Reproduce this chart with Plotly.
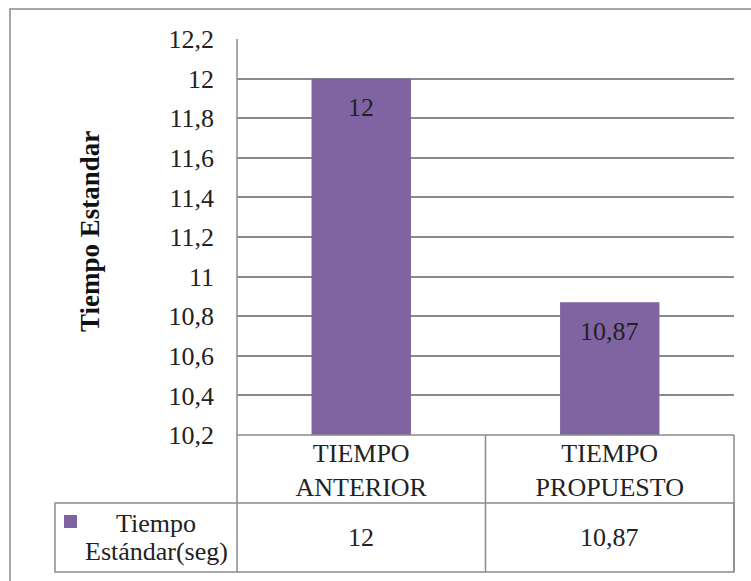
import plotly.graph_objects as go

# Data
categories = ["TIEMPO<br>ANTERIOR", "TIEMPO<br>PROPUESTO"]
values = [12, 10.87]
series_name = "Tiempo<br>Estándar(seg)"
y_ticks = [10.2, 10.4, 10.6, 10.8, 11.0, 11.2, 11.4, 11.6, 11.8, 12.0, 12.2]


def fmt(v):
    s = ("%.2f" % v).rstrip("0").rstrip(".")
    return s.replace(".", ",")


W, H = 751, 581
L, R, T, B = 237, 17, 39, 146
PW, PH = W - L - R, H - T - B

def px_x(p):
    return (p - L) / PW

def px_y(p):
    return (H - B - p) / PH

FONT = "Liberation Serif"
PURPLE = "#8064A2"
LINE = "#8a8a8a"
TXT = "#222222"
FS = 26

fig = go.Figure()
fig.add_trace(go.Bar(
    x=categories, y=values, width=0.4,
    marker=dict(color=PURPLE, line=dict(width=0)),
    hoverinfo="skip", showlegend=False,
))

annotations = []
# value labels inside bars
for c, v in zip(categories, values):
    annotations.append(dict(x=c, y=v, xref="x", yref="y", text=fmt(v),
                            showarrow=False, yanchor="middle", yshift=-29,
                            font=dict(family=FONT, size=FS, color=TXT)))
# data table values row
for c, v in zip(categories, values):
    annotations.append(dict(x=c, y=px_y(537), xref="x", yref="paper", text=fmt(v),
                            showarrow=False, yanchor="middle",
                            font=dict(family=FONT, size=FS, color=TXT)))
# series name in table row
name_lines = series_name.split("<br>")
annotations.append(dict(x=px_x(156), y=px_y(523), xref="paper", yref="paper",
                        text=name_lines[0], showarrow=False, xanchor="center", yanchor="middle",
                        font=dict(family=FONT, size=FS, color=TXT)))
annotations.append(dict(x=px_x(156), y=px_y(551), xref="paper", yref="paper",
                        text=name_lines[1], showarrow=False, xanchor="center", yanchor="middle",
                        font=dict(family=FONT, size=FS, color=TXT)))
# y-axis title
annotations.append(dict(x=px_x(90), y=px_y(232), xref="paper", yref="paper",
                        text="<b>Tiempo Estandar</b>", textangle=-90, showarrow=False,
                        xanchor="center", yanchor="middle",
                        font=dict(family=FONT, size=27, color="#111111")))

lw = 1.5
shapes = [
    # outer chart frame
    dict(type="rect", xref="paper", yref="paper", x0=px_x(10), y0=px_y(9),
         x1=px_x(780), y1=px_y(620), line=dict(color=LINE, width=lw)),
    # vertical axis line
    dict(type="line", xref="paper", yref="paper", x0=0, x1=0, y0=0, y1=1,
         line=dict(color=LINE, width=lw)),
    # table: category row top + right border
    dict(type="line", xref="paper", yref="paper", x0=0, x1=1, y0=0, y1=0,
         line=dict(color=LINE, width=lw)),
    dict(type="line", xref="paper", yref="paper", x0=1, x1=1, y0=0, y1=px_y(572),
         line=dict(color=LINE, width=lw)),
    # left column border of the data table
    dict(type="line", xref="paper", yref="paper", x0=0, x1=0, y0=0, y1=px_y(572),
         line=dict(color=LINE, width=lw)),
    # column divider between categories
    dict(type="line", xref="x", yref="paper", x0=0.5, x1=0.5, y0=0, y1=px_y(572),
         line=dict(color=LINE, width=lw)),
    # values row box
    dict(type="rect", xref="paper", yref="paper", x0=px_x(55), x1=1,
         y0=px_y(572), y1=px_y(503), line=dict(color=LINE, width=lw)),
    # legend swatch
    dict(type="rect", xref="paper", yref="paper", x0=px_x(64), x1=px_x(77),
         y0=px_y(528), y1=px_y(515), fillcolor=PURPLE, line=dict(width=0)),
]

fig.update_layout(
    width=W, height=H,
    margin=dict(l=L, r=R, t=T, b=B, autoexpand=False),
    paper_bgcolor="white", plot_bgcolor="white",
    font=dict(family=FONT, size=FS, color=TXT),
    bargap=0.6,
    xaxis=dict(type="category", range=[-0.5, 1.5], showgrid=False, showline=False,
               zeroline=False, ticks="", ticklabelstandoff=0,
               tickfont=dict(family=FONT, size=FS, color=TXT)),
    yaxis=dict(range=[10.2, 12.2], tickvals=y_ticks, ticktext=[fmt(v) for v in y_ticks],
               showgrid=True, gridcolor=LINE, gridwidth=lw, zeroline=False,
               showline=False, ticks="", ticklabelstandoff=22,
               tickfont=dict(family=FONT, size=FS, color=TXT)),
    annotations=annotations,
    shapes=shapes,
)

fig.write_html("out.html")
